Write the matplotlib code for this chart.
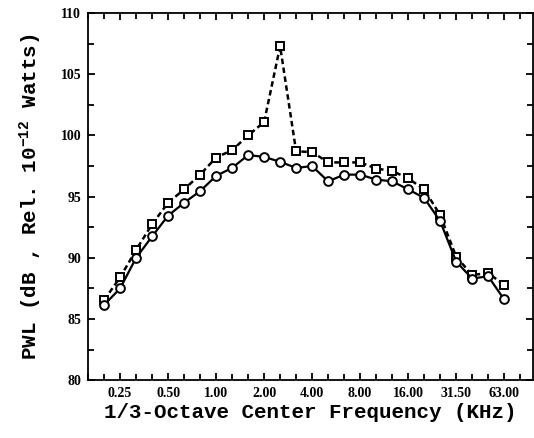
import matplotlib
matplotlib.use("Agg")
import matplotlib.pyplot as plt
from matplotlib.ticker import MultipleLocator

# 1/3-octave band centre frequencies (kHz), 0.2 to 63
bands = [0.2, 0.25, 0.315, 0.4, 0.5, 0.63, 0.8, 1.0, 1.25, 1.6, 2.0, 2.5, 3.15,
         4.0, 5.0, 6.3, 8.0, 10.0, 12.5, 16.0, 20.0, 25.0, 31.5, 40.0, 50.0, 63.0]

# PWL, circles with solid line
pwl_circle = [86.15, 87.5, 90.0, 91.75, 93.45, 94.5, 95.45, 96.7, 97.35, 98.4,
              98.25, 97.85, 97.35, 97.5, 96.25, 96.8, 96.8, 96.4, 96.25, 95.6,
              94.9, 93.0, 89.7, 88.3, 88.5, 86.6]

# PWL, squares with dashed line
pwl_square = [86.55, 88.4, 90.65, 92.75, 94.5, 95.6, 96.8, 98.2, 98.8, 100.0,
              101.1, 107.3, 98.7, 98.65, 97.8, 97.8, 97.8, 97.3, 97.1, 96.5,
              95.6, 93.5, 90.1, 88.6, 88.75, 87.8]

tick_labels = ["0.25", "0.50", "1.00", "2.00", "4.00", "8.00", "16.00", "31.50", "63.00"]
tick_bands = [0.25, 0.5, 1.0, 2.0, 4.0, 8.0, 16.0, 31.5, 63.0]

plt.rcParams["mathtext.default"] = "regular"

fig = plt.figure(figsize=(5.34, 4.38), dpi=100)
ax = fig.add_axes([0.165, 0.132, 0.833, 0.838])

x = list(range(len(bands)))

ax.plot(x, pwl_square, color="black", linestyle=(0, (2.2, 1.4)), linewidth=1.8,
        marker="s", markersize=6.3, markerfacecolor="white",
        markeredgecolor="black", markeredgewidth=1.4)
ax.plot(x, pwl_circle, color="black", linestyle="-", linewidth=1.6,
        marker="o", markersize=6.3, markerfacecolor="white",
        markeredgecolor="black", markeredgewidth=1.4)

ax.set_xlim(-1, 26.8)
ax.set_ylim(80, 110)

ax.set_xticks([bands.index(b) for b in tick_bands])
ax.set_xticklabels(tick_labels)
ax.xaxis.set_minor_locator(MultipleLocator(1))
ax.yaxis.set_major_locator(MultipleLocator(5))
ax.yaxis.set_minor_locator(MultipleLocator(2.5))

ax.tick_params(which="both", direction="in", top=True, right=True,
               width=1.3, color="black")
ax.tick_params(which="major", length=5, pad=5)
ax.tick_params(which="minor", length=4)

for lab in ax.get_xticklabels() + ax.get_yticklabels():
    lab.set_fontfamily("Liberation Serif")
    lab.set_fontweight("bold")
    lab.set_fontsize(10)

for sp in ax.spines.values():
    sp.set_linewidth(1.3)

ax.set_xlabel("1/3-Octave Center Frequency (KHz)", fontfamily="Liberation Mono",
              fontweight="bold", fontsize=15, labelpad=2)
ax.set_ylabel(r"PWL (dB , Rel. 10$^{-12}$ Watts)", fontfamily="Liberation Mono",
              fontweight="bold", fontsize=15, labelpad=12)

fig.savefig("out.png", dpi=100)
